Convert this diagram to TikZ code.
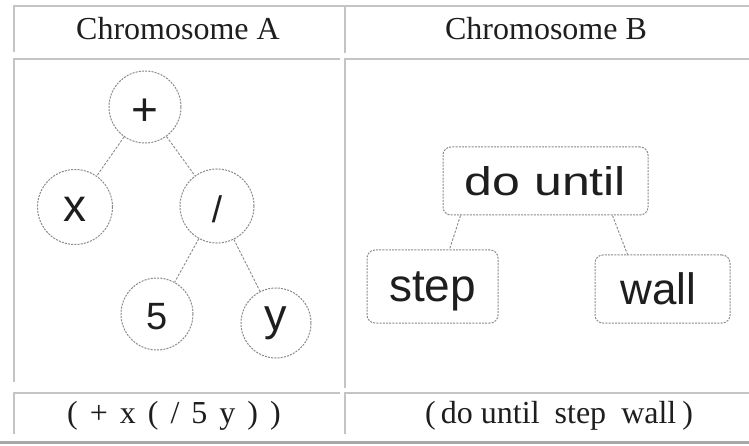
\documentclass[tikz,border=0pt]{standalone}
\usepackage{fontspec}
\setmainfont{Liberation Serif}
\newfontfamily\arialf{Liberation Sans}
\usetikzlibrary{calc}
\definecolor{rule}{HTML}{C4C4C4}
\definecolor{botrule}{HTML}{A8A8A8}
\definecolor{treeline}{HTML}{8A8A8A}
\definecolor{ink}{HTML}{1E1E1E}
\newcommand{\lowerby}[2]{\raisebox{-#1}[\height][\depth]{#2}}
\tikzset{
  cellline/.style={draw=rule, line width=1.4pt},
  hdr/.style={anchor=base, text=ink, font=\fontsize{32}{36}\selectfont, inner sep=0pt},
  circ/.style={circle, draw=treeline, dash pattern=on 2pt off 1.2pt, line width=1pt, minimum size=72pt, inner sep=0pt, text=ink},
  rbox/.style={rectangle, rounded corners=8pt, draw=treeline, dash pattern=on 2pt off 1.2pt, line width=1pt, inner sep=0pt, text=ink},
  tedge/.style={draw=treeline, dash pattern=on 2.5pt off 1.5pt, line width=0.9pt},
}
\begin{document}
\begin{tikzpicture}[x=1pt, y=-1pt]
\useasboundingbox (0,0) rectangle (749,446);
\fill[white] (0,0) rectangle (749,446);
% table borders (top and left edges of each cell)
\draw[cellline] (14,52) -- (14,6) -- (749,6);
\draw[cellline] (345,6) -- (345,53);
\draw[cellline] (14,382) -- (14,59) -- (340,59);
\draw[cellline] (345,388) -- (345,59) -- (749,59);
\draw[cellline] (14,434) -- (14,393) -- (340,393);
\draw[cellline] (345,434) -- (345,393) -- (749,393);
\draw[draw=botrule, line width=3pt] (0,442.5) -- (749,442.5);
% header and footer texts
\node[hdr] (hA) at (178,40) {Chromosome A};
\node[hdr] (hB) at (546,40) {Chromosome B};
\node[hdr] (fA) at (174,423) {(\hspace{12pt}+\hspace{12pt}x\hspace{12pt}(\hspace{12pt}/\hspace{12pt}5\hspace{12pt}y\hspace{12pt})\hspace{12pt})};
\node[hdr] (fB) at (559,423) {(\,do until\hspace{15pt}step\hspace{15pt}wall\hspace{6pt})};
% tree A
\node[circ, font=\arialf\fontsize{46}{46}\selectfont] (plus) at (145,107) {\lowerby{5pt}{+}};
\node[circ, font=\arialf\fontsize{46}{46}\selectfont, minimum size=75pt] (x) at (75,207) {\lowerby{2pt}{x}};
\node[circ, font=\arialf\fontsize{37}{37}\selectfont, minimum size=74pt] (sl) at (217,206) {\lowerby{3pt}{/}};
\node[circ, font=\arialf\fontsize{38}{38}\selectfont] (five) at (157,314) {\lowerby{3pt}{5}};
\node[circ, font=\arialf\fontsize{45}{45}\selectfont, minimum size=70pt] (yy) at (276,323) {y};
\draw[tedge] (plus) -- (x);
\draw[tedge] (plus) -- (sl);
\draw[tedge] (sl) -- (five);
\draw[tedge] (sl) -- (yy);
% tree B
\node[rbox, minimum width=205pt, minimum height=68pt, font=\arialf\fontsize{40}{40}\selectfont] (du) at (545.5,181) {\scalebox{1.25}[1]{do until}};
\node[rbox, minimum width=131pt, minimum height=73pt, font=\arialf\fontsize{46}{46}\selectfont] (step) at (432.5,286.5) {\lowerby{5pt}{step}};
\node[rbox, minimum width=135pt, minimum height=68pt, font=\arialf\fontsize{44}{44}\selectfont] (wall) at (662.5,289) {\hspace{-8pt}wall};
\draw[tedge] ($(du.south)+(-85,0)$) -- ($(step.north)+(17,0)$);
\draw[tedge] ($(du.south)+(67,0)$) -- ($(wall.north)+(-35,0)$);
\end{tikzpicture}
\end{document}
